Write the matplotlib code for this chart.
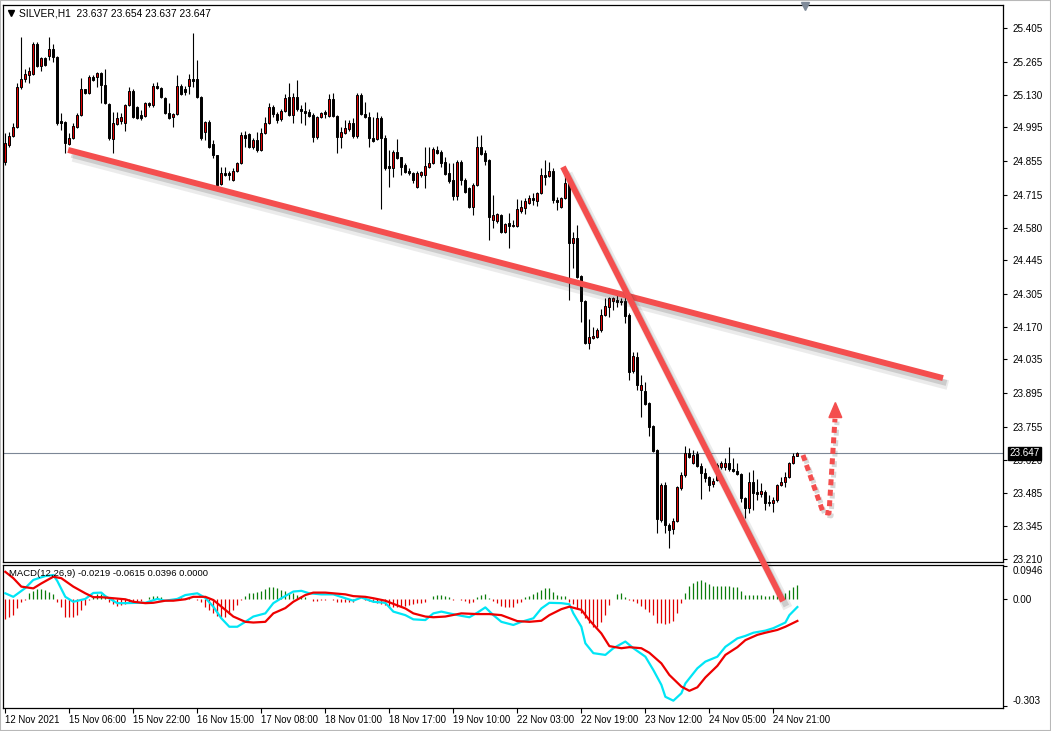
import matplotlib
matplotlib.use("Agg")
import matplotlib.pyplot as plt
import matplotlib.patheffects as pe
from matplotlib.lines import Line2D
from matplotlib.patches import Polygon, Rectangle
import matplotlib.transforms as mtransforms

plt.rcParams['font.family'] = ['Liberation Sans', 'DejaVu Sans']

# ---------------- data (H1 candles, bar index 0..198) ----------------
opens = [
24.851,24.922,24.959,24.996,25.161,25.194,25.211,25.215,25.339,25.248,
25.281,25.289,25.318,25.285,25.021,25.017,24.926,24.951,24.996,25.046,
25.153,25.137,25.203,25.203,25.219,25.170,25.091,24.946,25.008,25.021,
25.013,25.087,25.145,25.079,25.046,25.041,25.095,25.087,25.165,25.157,
25.116,25.054,25.037,25.050,25.165,25.153,25.165,25.194,25.194,25.120,
24.975,25.017,24.926,24.880,24.760,24.806,24.806,24.777,24.814,24.847,
24.963,24.967,24.913,24.942,24.901,24.971,25.013,25.079,25.050,25.029,
25.062,25.120,25.046,25.120,25.070,25.062,25.058,25.046,24.955,25.037,
25.058,25.041,25.112,25.041,24.955,24.971,24.988,25.013,24.959,25.128,
25.050,25.037,24.951,24.946,25.033,24.951,24.835,24.826,24.893,24.872,
24.839,24.814,24.806,24.748,24.798,24.798,24.831,24.847,24.901,24.893,
24.851,24.806,24.777,24.711,24.851,24.777,24.744,24.665,24.756,24.913,
24.888,24.860,24.612,24.607,24.632,24.562,24.599,24.587,24.587,24.649,
24.661,24.682,24.702,24.690,24.723,24.798,24.793,24.814,24.694,24.665,
24.702,24.764,24.516,24.537,24.380,24.277,24.103,24.124,24.128,24.157,
24.219,24.252,24.277,24.281,24.277,24.277,24.219,23.987,24.045,23.909,
23.905,23.855,23.760,23.661,23.371,23.516,23.351,23.334,23.367,23.504,
23.557,23.648,23.607,23.644,23.595,23.566,23.549,23.520,23.537,23.590,
23.590,23.607,23.582,23.574,23.562,23.462,23.421,23.528,23.487,23.479,
23.487,23.446,23.442,23.454,23.516,23.528,23.549,23.607,23.637]

highs = [
24.971,24.975,25.013,25.178,25.368,25.236,25.244,25.347,25.347,25.285,
25.285,25.368,25.339,25.289,25.054,25.021,24.971,25.013,25.054,25.199,
25.153,25.211,25.211,25.223,25.223,25.236,25.095,25.058,25.058,25.054,
25.091,25.161,25.153,25.083,25.066,25.099,25.099,25.178,25.182,25.161,
25.120,25.095,25.054,25.211,25.174,25.165,25.215,25.385,25.273,25.124,
25.021,25.025,24.942,24.880,24.831,24.831,24.814,24.826,24.851,24.975,
24.979,24.971,24.951,24.975,24.992,25.037,25.095,25.087,25.058,25.070,
25.132,25.178,25.137,25.190,25.087,25.099,25.070,25.054,25.041,25.058,
25.066,25.132,25.137,25.046,24.996,25.025,25.025,25.033,25.137,25.137,
25.099,25.058,25.037,25.058,25.041,24.963,24.901,24.901,24.946,24.872,
24.847,24.826,24.810,24.814,24.814,24.913,24.913,24.913,24.917,24.901,
24.872,24.847,24.847,24.860,24.860,24.785,24.748,24.764,24.959,24.963,
24.901,24.864,24.715,24.640,24.636,24.599,24.640,24.612,24.698,24.694,
24.702,24.715,24.723,24.727,24.826,24.860,24.851,24.826,24.707,24.707,
24.798,24.777,24.562,24.591,24.384,24.281,24.202,24.169,24.165,24.244,
24.289,24.293,24.293,24.301,24.289,24.293,24.227,24.066,24.066,23.971,
23.942,23.859,23.764,23.665,23.524,23.528,23.359,23.380,23.512,23.570,
23.677,23.669,23.661,23.657,23.607,23.586,23.553,23.545,23.607,23.615,
23.628,23.673,23.628,23.607,23.566,23.466,23.570,23.578,23.541,23.524,
23.495,23.475,23.466,23.520,23.549,23.570,23.611,23.648,23.654]

lows = [
24.839,24.913,24.955,24.992,25.153,25.182,25.178,25.211,25.244,25.227,
25.248,25.273,25.265,25.004,24.984,24.888,24.922,24.946,24.992,25.041,
25.132,25.132,25.186,25.161,25.095,25.091,24.942,24.888,25.004,25.008,
24.979,25.083,25.033,25.029,25.025,25.037,25.079,25.079,25.153,25.116,
25.050,25.029,24.996,25.046,25.128,25.128,25.132,25.161,25.116,24.942,
24.942,24.909,24.868,24.752,24.756,24.793,24.777,24.773,24.810,24.843,
24.913,24.909,24.905,24.893,24.897,24.967,25.008,25.037,25.013,25.021,
25.058,25.041,25.013,25.062,25.013,25.004,25.037,24.934,24.946,25.033,
25.033,25.037,25.037,24.888,24.909,24.967,24.979,24.951,24.951,25.046,
25.033,24.913,24.934,24.942,24.657,24.818,24.748,24.789,24.864,24.798,
24.806,24.798,24.764,24.744,24.789,24.744,24.826,24.843,24.884,24.831,
24.798,24.764,24.694,24.694,24.756,24.723,24.661,24.632,24.752,24.880,
24.839,24.529,24.578,24.599,24.558,24.558,24.496,24.583,24.583,24.640,
24.636,24.678,24.674,24.669,24.719,24.756,24.789,24.682,24.653,24.661,
24.698,24.281,24.413,24.372,24.190,24.099,24.078,24.120,24.124,24.148,
24.215,24.211,24.239,24.252,24.260,24.186,23.950,23.979,23.909,23.797,
23.847,23.719,23.652,23.318,23.363,23.318,23.256,23.313,23.363,23.495,
23.549,23.628,23.603,23.590,23.458,23.528,23.491,23.508,23.533,23.582,
23.578,23.574,23.570,23.557,23.446,23.380,23.400,23.413,23.454,23.466,
23.413,23.429,23.404,23.446,23.512,23.508,23.545,23.603,23.637]

closes = [
24.930,24.959,24.996,25.161,25.194,25.215,25.227,25.339,25.248,25.281,
25.252,25.318,25.285,25.013,25.013,24.930,24.951,25.000,25.046,25.153,
25.137,25.203,25.190,25.219,25.170,25.095,24.951,25.013,25.033,25.037,
25.087,25.145,25.037,25.033,25.033,25.095,25.087,25.165,25.157,25.120,
25.054,25.033,25.050,25.165,25.132,25.141,25.194,25.186,25.120,24.951,
25.017,24.913,24.880,24.756,24.806,24.798,24.798,24.814,24.847,24.963,
24.951,24.913,24.942,24.901,24.971,25.013,25.079,25.050,25.025,25.062,
25.116,25.046,25.120,25.070,25.062,25.054,25.041,24.955,25.037,25.054,
25.050,25.112,25.041,24.955,24.975,24.992,25.013,24.959,25.128,25.050,
25.037,24.951,24.938,25.033,24.951,24.826,24.826,24.893,24.868,24.831,
24.810,24.806,24.777,24.806,24.810,24.835,24.847,24.905,24.888,24.847,
24.802,24.773,24.711,24.851,24.777,24.727,24.665,24.756,24.913,24.884,
24.855,24.624,24.632,24.636,24.562,24.595,24.587,24.591,24.657,24.665,
24.690,24.702,24.694,24.723,24.798,24.789,24.814,24.694,24.686,24.702,
24.764,24.516,24.537,24.376,24.277,24.103,24.128,24.132,24.157,24.219,
24.256,24.289,24.289,24.273,24.273,24.215,23.983,24.049,23.929,23.929,
23.851,23.756,23.657,23.375,23.516,23.351,23.330,23.367,23.508,23.557,
23.648,23.632,23.640,23.595,23.566,23.545,23.516,23.533,23.599,23.607,
23.607,23.582,23.574,23.562,23.462,23.421,23.528,23.483,23.479,23.491,
23.442,23.442,23.454,23.516,23.528,23.549,23.607,23.636,23.647]

macd_hist = [
-0.057,-0.051,-0.045,-0.026,-0.009,-0.003,0.017,0.023,0.028,0.028,
0.026,0.020,0.014,-0.009,-0.023,-0.051,-0.051,-0.051,-0.045,-0.031,
-0.017,-0.003,0.009,0.014,0.014,0.006,-0.009,-0.014,-0.020,-0.017,
-0.014,-0.011,-0.011,-0.009,-0.006,0.000,0.006,0.009,0.009,0.006,
0.001,-0.001,-0.003,0.001,0.003,0.003,0.003,0.001,-0.003,-0.009,
-0.023,-0.031,-0.040,-0.048,-0.051,-0.051,-0.043,-0.031,-0.017,-0.003,
0.009,0.017,0.017,0.020,0.023,0.028,0.034,0.034,0.031,0.026,
0.023,0.017,0.017,0.011,0.009,0.006,0.001,-0.006,-0.006,-0.003,
-0.001,0.001,-0.001,-0.009,-0.009,-0.009,-0.009,-0.009,0.003,0.001,
-0.001,-0.006,-0.009,-0.011,-0.014,-0.017,-0.023,-0.023,-0.023,-0.023,
-0.020,-0.017,-0.014,-0.011,-0.011,-0.009,0.001,0.009,0.011,0.011,
0.009,0.006,-0.003,0.001,-0.003,-0.006,-0.011,-0.009,0.006,0.011,
0.014,0.003,-0.006,-0.011,-0.020,-0.023,-0.023,-0.023,-0.011,-0.009,
0.006,0.009,0.014,0.020,0.026,0.031,0.031,0.020,0.011,0.009,
0.009,-0.009,-0.014,-0.026,-0.040,-0.054,-0.068,-0.080,-0.080,-0.065,
-0.045,-0.017,0.001,0.014,0.017,0.006,-0.003,-0.006,-0.011,-0.020,
-0.028,-0.037,-0.045,-0.068,-0.068,-0.071,-0.068,-0.062,-0.040,-0.011,
0.017,0.037,0.045,0.051,0.054,0.048,0.043,0.037,0.037,0.037,
0.037,0.037,0.034,0.034,0.023,0.011,0.011,0.011,0.011,0.011,
0.009,0.009,0.011,0.009,0.009,0.017,0.026,0.034,0.040]

macd_main_idx = [0,2,5,7,10,12,13,15,17,20,22,24,25,28,30,33,35,38,40,43,
                 45,48,50,52,54,56,58,60,62,65,67,69,72,74,76,79,82,85,87,89,
                 92,95,97,100,102,105,107,109,111,114,116,118,120,122,124,127,129,132,134,136,
                 139,141,142,144,145,147,150,152,155,157,160,162,164,165,167,169,170,173,175,178,
                 180,183,185,187,190,192,195,196,198]
macd_main = [0.017,0.007,0.032,0.055,0.066,0.069,0.052,0.007,-0.007,0.001,
             0.018,0.019,0.009,-0.011,-0.011,-0.010,-0.010,0.001,-0.004,0.001,
             0.012,0.017,0.004,-0.021,-0.054,-0.078,-0.078,-0.064,-0.049,-0.040,
             -0.011,0.003,0.022,0.024,0.017,0.014,0.014,0.003,-0.004,0.005,
             -0.007,-0.010,-0.035,-0.045,-0.057,-0.059,-0.040,-0.035,-0.040,-0.047,
             -0.051,-0.038,-0.023,-0.045,-0.064,-0.073,-0.064,-0.054,-0.026,-0.010,
             -0.011,-0.014,-0.040,-0.078,-0.125,-0.153,-0.158,-0.139,-0.120,-0.139,
             -0.163,-0.201,-0.243,-0.277,-0.288,-0.267,-0.239,-0.196,-0.177,-0.163,
             -0.135,-0.111,-0.104,-0.095,-0.089,-0.082,-0.066,-0.045,-0.022]

macd_sig_idx = [0,2,4,7,9,12,14,17,20,22,24,27,30,32,35,37,40,42,45,47,
                50,52,55,57,60,62,65,67,70,72,75,77,80,82,85,87,90,92,95,97,
                100,102,105,107,110,114,118,121,124,128,131,134,136,139,141,144,146,149,151,154,
                156,159,161,164,166,169,171,173,175,178,180,183,185,188,190,193,195,198]
macd_signal = [0.078,0.060,0.036,0.031,0.045,0.064,0.060,0.036,0.017,0.006,
               0.006,0.003,0.000,-0.007,-0.011,-0.010,-0.004,-0.004,0.000,0.007,
               0.007,-0.002,-0.030,-0.049,-0.064,-0.066,-0.064,-0.040,-0.025,-0.007,
               0.012,0.019,0.019,0.017,0.014,0.009,0.007,0.003,-0.004,-0.013,
               -0.026,-0.040,-0.049,-0.051,-0.049,-0.040,-0.042,-0.042,-0.045,-0.062,
               -0.064,-0.061,-0.045,-0.028,-0.021,-0.030,-0.059,-0.097,-0.133,-0.139,
               -0.136,-0.139,-0.152,-0.182,-0.215,-0.248,-0.260,-0.250,-0.222,-0.189,
               -0.158,-0.136,-0.116,-0.101,-0.095,-0.087,-0.078,-0.0615]

price_ticks = [25.405, 25.265, 25.130, 24.995, 24.855, 24.715, 24.580, 24.445,
               24.305, 24.170, 24.035, 23.895, 23.755, 23.620, 23.485, 23.345, 23.210]
macd_ticks = [0.0946, 0.0, -0.303]
macd_tick_labels = ['0.0946', '0.00', '-0.303']
time_tick_idx = [0, 16, 32, 48, 64, 80, 96, 112, 128, 144, 160, 176, 192]
time_labels = ['12 Nov 2021', '15 Nov 06:00', '15 Nov 22:00', '16 Nov 15:00',
               '17 Nov 08:00', '18 Nov 01:00', '18 Nov 17:00', '19 Nov 10:00',
               '22 Nov 03:00', '22 Nov 19:00', '23 Nov 12:00', '24 Nov 05:00',
               '24 Nov 21:00']
last_price = 23.647
header = 'SILVER,H1  23.637 23.654 23.637 23.647'
macd_header = 'MACD(12,26,9) -0.0219 -0.0615 0.0396 0.0000'

# ---------------- figure ----------------
W, H = 1051, 731
fig = plt.figure(figsize=(W / 100, H / 100), dpi=100)
fig.patch.set_facecolor('white')

def fx(px):
    return px / W

def fy(py):
    return 1 - py / H

ax = fig.add_axes([fx(3), fy(562), fx(1000), 557 / H])
axm = fig.add_axes([fx(3), fy(708), fx(1000), 143 / H])

XL = (-0.575, 249.4)
for a in (ax, axm):
    a.set_xlim(*XL)
    for s in a.spines.values():
        s.set_color('black')
        s.set_linewidth(0.9)
    a.set_facecolor('white')

ax.set_ylim(23.198, 25.500)
axm.set_ylim(-0.3088, 0.0974)

BULL = '#dd0000'
n = len(opens)
xs = list(range(n))
ax.vlines(xs, lows, highs, colors='black', linewidth=0.8, zorder=2)
bott = [min(o, c) for o, c in zip(opens, closes)]
hts = [abs(c - o) for o, c in zip(opens, closes)]
fcs = [BULL if c >= o else 'black' for o, c in zip(opens, closes)]
ax.bar(xs, hts, bottom=bott, width=0.55, color=fcs, edgecolor='black',
       linewidth=0.7, zorder=3)

# current price line + label
ax.axhline(last_price, color='#7c8796', linewidth=0.8, zorder=1)
btrans = mtransforms.blended_transform_factory(ax.transAxes, ax.transData)

# axes ticks
ax.yaxis.tick_right()
ax.set_yticks(price_ticks)
ax.set_yticklabels([f'{v:.3f}' for v in price_ticks])
ax.tick_params(axis='y', direction='out', length=3.2, width=0.8, pad=3.4,
               labelsize=7.1, colors='black')
ax.set_xticks([])

ax.text(1.0065, last_price, f'{last_price:.3f}', transform=btrans, ha='left',
        va='center', fontsize=7.1, color='white', zorder=20, clip_on=False,
        bbox=dict(boxstyle='square,pad=0.12', fc='black', ec='black'))

# MACD panel
axm.vlines(xs, 0, macd_hist,
           colors=['#0b7d0b' if v >= 0 else '#e00000' for v in macd_hist],
           linewidth=0.9, zorder=2)
axm.plot(macd_main_idx, macd_main, color='#00e5f5', linewidth=1.6, zorder=3)
axm.plot(macd_sig_idx, macd_signal, color='#ee0000', linewidth=1.6, zorder=4)
axm.yaxis.tick_right()
axm.set_yticks(macd_ticks)
axm.set_yticklabels(macd_tick_labels)
axm.tick_params(axis='y', direction='out', length=3.2, width=0.8, pad=3.4,
                labelsize=7.1, colors='black')
ylabs = axm.get_yticklabels()
ylabs[0].set_verticalalignment('top')
ylabs[2].set_verticalalignment('bottom')
axm.set_xticks(time_tick_idx)
axm.set_xticklabels(time_labels, ha='left')
axm.tick_params(axis='x', direction='out', length=3.5, width=0.8, pad=1.5,
                labelsize=6.9, colors='black')

# header texts
fig.add_artist(Line2D([fx(11)], [fy(13)], marker='v', markersize=4.5,
                      color='black', transform=fig.transFigure))
fig.text(fx(19), fy(13.5), header, fontsize=7.4, va='center', ha='left')
fig.text(fx(9), fy(573), macd_header, fontsize=6.8, va='center', ha='left')

# chart shift marker
fig.add_artist(Line2D([fx(805)], [fy(6)], marker='v', markersize=6,
                      color='#7f8a99', transform=fig.transFigure, clip_on=False))

# ---------------- hand-drawn annotations ----------------
ANN = '#f44e4e'
shadow = [pe.SimpleLineShadow(offset=(3.5, -5), shadow_color='#404040', alpha=0.10, linewidth=7),
          pe.SimpleLineShadow(offset=(2.5, -3.5), shadow_color='#404040', alpha=0.18),
          pe.Normal()]
for (x0, y0), (x1, y1) in [((15.7, 24.901), (234.4, 23.958)),
                           ((139.4, 24.831), (194.4, 23.036))]:
    fig.add_artist(Line2D([x0, x1], [y0, y1], color=ANN, linewidth=4.3,
                          solid_capstyle='butt', transform=ax.transData,
                          path_effects=shadow, zorder=30))

fig.add_artist(Line2D([199.4, 204.4, 205.9, 207.4], [23.640, 23.404, 23.400, 23.790],
                      color=ANN, linewidth=3.6, linestyle=(0, (1.2, 0.9)),
                      dash_capstyle='butt', transform=ax.transData,
                      path_effects=[pe.SimpleLineShadow(offset=(1.5, -2), shadow_color='#404040', alpha=0.2), pe.Normal()],
                      zorder=30))
fig.add_artist(Polygon([[207.5, 23.857], [205.9, 23.795], [209.1, 23.795]],
                       closed=True, facecolor=ANN, edgecolor=ANN,
                       transform=ax.transData, zorder=31))

# window border
fig.add_artist(Rectangle((0, 0), 1, 1, transform=fig.transFigure, fill=False,
                         edgecolor='#b8b8b8', linewidth=1.5))

fig.savefig('out.png', dpi=100)
